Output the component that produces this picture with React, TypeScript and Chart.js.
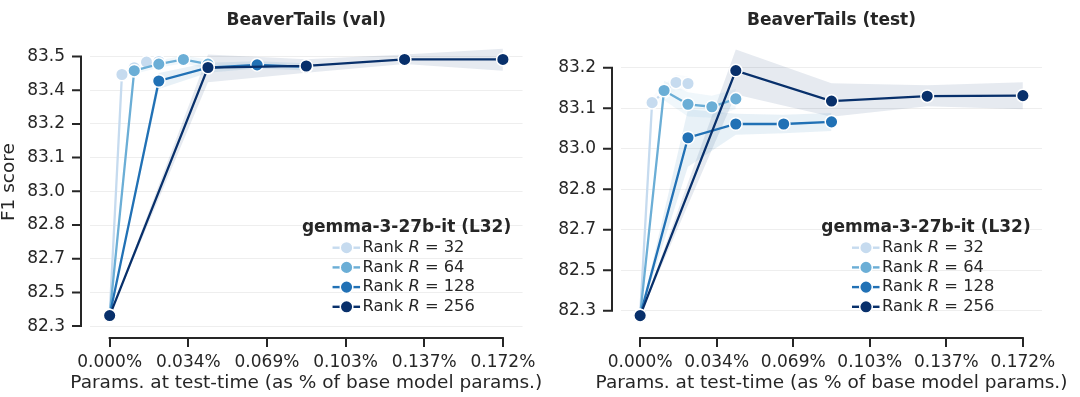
import React, { useEffect, useRef } from 'react';
import { Chart, registerables } from 'chart.js';

Chart.register(...registerables);

const FONT = "'DejaVu Sans', 'Liberation Sans', sans-serif";
const TEXT = '#262626';

// ---- shared data ----
const RANKS = [32, 64, 128, 256];
const COLORS = ['#c6dbef', '#6baed6', '#2171b5', '#08306b'];
const LEGEND_TITLE = 'gemma-3-27b-it (L32)';
const X_TITLE = 'Params. at test-time (as % of base model params.)';

const X_TICKS = [0, 0.03437, 0.06874, 0.10311, 0.13748, 0.17185];
const X_TICK_LABELS = ['0.000%', '0.034%', '0.069%', '0.103%', '0.137%', '0.172%'];
const X_MIN = -0.0085925;
const X_MAX = 0.1804425;

const X_R32 = [0, 0.00537, 0.01074, 0.01611, 0.02148];
const X_R64 = [0, 0.01074, 0.02148, 0.03222, 0.04296];
const X_R128 = [0, 0.02148, 0.04296, 0.06444, 0.08593];
const X_R256 = [0, 0.04296, 0.08593, 0.12889, 0.17185];

// ---- BeaverTails (val) ----
const VAL_Y_TICKS = [82.3, 82.45, 82.6, 82.75, 82.9, 83.05, 83.2, 83.35, 83.5];
const VAL_Y_TICK_LABELS = ['82.3', '82.5', '82.7', '82.8', '83.0', '83.1', '83.2', '83.4', '83.5'];
const VAL_R32 = [82.347, 83.42, 83.45, 83.475, 83.478];
const VAL_R32_LO = [82.347, 83.408, 83.438, 83.463, 83.466];
const VAL_R32_HI = [82.347, 83.432, 83.462, 83.487, 83.49];
const VAL_R64 = [82.347, 83.437, 83.466, 83.487, 83.466];
const VAL_R64_LO = [82.347, 83.422, 83.45, 83.47, 83.445];
const VAL_R64_HI = [82.347, 83.452, 83.482, 83.504, 83.487];
const VAL_R128 = [82.347, 83.391, 83.45, 83.463, 83.454];
const VAL_R128_LO = [82.347, 83.355, 83.428, 83.447, 83.438];
const VAL_R128_HI = [82.347, 83.427, 83.472, 83.479, 83.47];
const VAL_R256 = [82.347, 83.451, 83.458, 83.487, 83.487];
const VAL_R256_LO = [82.347, 83.386, 83.428, 83.467, 83.437];
const VAL_R256_HI = [82.347, 83.509, 83.488, 83.509, 83.535];

// ---- BeaverTails (test) ----
const TEST_Y_TICKS = [82.3, 82.45, 82.6, 82.75, 82.9, 83.05, 83.2];
const TEST_Y_TICK_LABELS = ['82.3', '82.5', '82.7', '82.8', '83.0', '83.1', '83.2'];
const TEST_R32 = [82.282, 83.071, 83.111, 83.146, 83.142];
const TEST_R32_LO = [82.282, 83.05, 83.085, 83.118, 83.115];
const TEST_R32_HI = [82.282, 83.092, 83.137, 83.174, 83.169];
const TEST_R64 = [82.282, 83.116, 83.065, 83.056, 83.085];
const TEST_R64_LO = [82.282, 83.08, 83.02, 83.015, 83.048];
const TEST_R64_HI = [82.282, 83.152, 83.11, 83.097, 83.122];
const TEST_R128 = [82.282, 82.941, 82.992, 82.992, 83.0];
const TEST_R128_LO = [82.282, 82.834, 82.952, 82.958, 82.966];
const TEST_R128_HI = [82.282, 83.047, 83.03, 83.026, 83.033];
const TEST_R256 = [82.282, 83.19, 83.077, 83.095, 83.097];
const TEST_R256_LO = [82.282, 83.101, 83.019, 83.058, 83.047];
const TEST_R256_HI = [82.282, 83.268, 83.143, 83.136, 83.147];

type Series = { x: number[]; y: number[]; lo: number[]; hi: number[] };
type Panel = {
  title: string;
  left: number;
  width: number;
  padRight: number;
  axisWidth: number;
  yMin: number;
  yMax: number;
  yTicks: number[];
  yLabels: string[];
  yTitle: string | null;
  series: Series[];
};

const PANELS: Panel[] = [
  {
    title: 'BeaverTails (val)',
    left: 0,
    width: 560,
    padRight: 31,
    axisWidth: 90,
    yMin: 82.2872,
    yMax: 83.5949,
    yTicks: VAL_Y_TICKS,
    yLabels: VAL_Y_TICK_LABELS,
    yTitle: 'F1 score',
    series: [
      { x: X_R32, y: VAL_R32, lo: VAL_R32_LO, hi: VAL_R32_HI },
      { x: X_R64, y: VAL_R64, lo: VAL_R64_LO, hi: VAL_R64_HI },
      { x: X_R128, y: VAL_R128, lo: VAL_R128_LO, hi: VAL_R128_HI },
      { x: X_R256, y: VAL_R256, lo: VAL_R256_LO, hi: VAL_R256_HI },
    ],
  },
  {
    title: 'BeaverTails (test)',
    left: 540,
    width: 540,
    padRight: 21,
    axisWidth: 81,
    yMin: 82.2324,
    yMax: 83.321,
    yTicks: TEST_Y_TICKS,
    yLabels: TEST_Y_TICK_LABELS,
    yTitle: null,
    series: [
      { x: X_R32, y: TEST_R32, lo: TEST_R32_LO, hi: TEST_R32_HI },
      { x: X_R64, y: TEST_R64, lo: TEST_R64_LO, hi: TEST_R64_HI },
      { x: X_R128, y: TEST_R128, lo: TEST_R128_LO, hi: TEST_R128_HI },
      { x: X_R256, y: TEST_R256, lo: TEST_R256_LO, hi: TEST_R256_HI },
    ],
  },
];

function hexToRgba(hex: string, a: number) {
  const n = parseInt(hex.slice(1), 16);
  return `rgba(${(n >> 16) & 255},${(n >> 8) & 255},${n & 255},${a})`;
}

function makeDecor(panel: Panel) {
  return {
    id: 'decor',
    afterDraw(chart: any) {
      const { ctx, chartArea: ca, scales } = chart;
      const xs = scales.x;
      const ys = scales.y;
      ctx.save();
      ctx.strokeStyle = TEXT;
      ctx.lineWidth = 2;
      ctx.lineCap = 'butt';
      // bottom spine (offset, trimmed)
      const sy = ca.bottom + 9;
      const x0 = xs.getPixelForValue(X_TICKS[0]);
      const x1 = xs.getPixelForValue(X_TICKS[X_TICKS.length - 1]);
      ctx.beginPath();
      ctx.moveTo(x0 - 1, sy);
      ctx.lineTo(x1 + 1, sy);
      X_TICKS.forEach((v) => {
        const p = Math.round(xs.getPixelForValue(v));
        ctx.moveTo(p, sy);
        ctx.lineTo(p, sy + 9);
      });
      ctx.stroke();
      // left spine (offset, trimmed)
      const sx = ca.left - 9;
      const yb = ys.getPixelForValue(panel.yTicks[0]);
      const yt = ys.getPixelForValue(panel.yTicks[panel.yTicks.length - 1]);
      ctx.beginPath();
      ctx.moveTo(sx, yb + 1);
      ctx.lineTo(sx, yt - 1);
      panel.yTicks.forEach((v) => {
        const p = ys.getPixelForValue(v);
        ctx.moveTo(sx, p);
        ctx.lineTo(sx - 9, p);
      });
      ctx.stroke();

      // x axis title
      ctx.fillStyle = TEXT;
      ctx.font = `18.5px ${FONT}`;
      ctx.textAlign = 'center';
      ctx.textBaseline = 'middle';
      ctx.fillText(X_TITLE, (ca.left + ca.right) / 2, 383);

      // legend
      const r = ca.right;
      const b = ca.bottom;
      ctx.font = `bold 17px ${FONT}`;
      ctx.textAlign = 'center';
      ctx.fillText(LEGEND_TITLE, r - 116, b - 101);
      RANKS.forEach((rank, i) => {
        const yy = b - 81.3 + i * 19.7;
        ctx.strokeStyle = COLORS[i];
        ctx.lineWidth = 2.4;
        ctx.beginPath();
        ctx.moveTo(r - 190, yy);
        ctx.lineTo(r - 162.5, yy);
        ctx.stroke();
        ctx.beginPath();
        ctx.arc(r - 176, yy, 6.3, 0, Math.PI * 2);
        ctx.fillStyle = COLORS[i];
        ctx.fill();
        ctx.lineWidth = 1.5;
        ctx.strokeStyle = '#ffffff';
        ctx.stroke();
        ctx.fillStyle = TEXT;
        ctx.textAlign = 'left';
        let tx = r - 160;
        ctx.font = `16.3px ${FONT}`;
        ctx.fillText('Rank ', tx, yy);
        tx += ctx.measureText('Rank ').width;
        ctx.font = `italic 16.3px ${FONT}`;
        ctx.fillText('R', tx, yy);
        tx += ctx.measureText('R').width;
        ctx.font = `16.3px ${FONT}`;
        ctx.fillText(' = ' + rank, tx, yy);
      });
      ctx.restore();
    },
  };
}

function buildConfig(panel: Panel): any {
  const datasets: any[] = [];
  panel.series.forEach((s, i) => {
    const band = hexToRgba(COLORS[i], 0.1);
    datasets.push({
      data: s.x.map((x, k) => ({ x, y: s.hi[k] })),
      fill: '+1',
      backgroundColor: band,
      borderColor: 'rgba(0,0,0,0)',
      borderWidth: 0,
      pointRadius: 0,
      order: 10,
    });
    datasets.push({
      data: s.x.map((x, k) => ({ x, y: s.lo[k] })),
      fill: false,
      borderColor: 'rgba(0,0,0,0)',
      borderWidth: 0,
      pointRadius: 0,
      order: 10,
    });
  });
  panel.series.forEach((s, i) => {
    datasets.push({
      label: `Rank R = ${RANKS[i]}`,
      data: s.x.map((x, k) => ({ x, y: s.y[k] })),
      borderColor: COLORS[i],
      backgroundColor: COLORS[i],
      borderWidth: 2.3,
      pointRadius: 6.3,
      pointHoverRadius: 6.3,
      pointBorderWidth: 1.5,
      pointBorderColor: '#ffffff',
      pointBackgroundColor: COLORS[i],
      fill: false,
      tension: 0,
      order: 4 - i,
    });
  });

  return {
    type: 'line',
    data: { datasets },
    plugins: [makeDecor(panel)],
    options: {
      animation: false,
      responsive: false,
      events: [],
      layout: { padding: { left: 0, right: panel.padRight, top: 0, bottom: 0 } },
      plugins: {
        legend: { display: false },
        tooltip: { enabled: false },
        filler: { propagate: false, drawTime: 'beforeDatasetsDraw' },
        title: {
          display: true,
          text: panel.title,
          fullSize: false,
          color: TEXT,
          font: { family: FONT, size: 17, weight: 'bold', lineHeight: 1 },
          padding: { top: 0, bottom: 6 },
        },
      },
      scales: {
        x: {
          type: 'linear',
          min: X_MIN,
          max: X_MAX,
          afterBuildTicks: (s: any) => {
            s.ticks = X_TICKS.map((v) => ({ value: v }));
          },
          afterFit: (s: any) => {
            s.height = 68;
          },
          ticks: {
            autoSkip: false,
            maxRotation: 0,
            minRotation: 0,
            padding: 23,
            color: TEXT,
            font: { family: FONT, size: 17 },
            callback: (_v: any, i: number) => X_TICK_LABELS[i],
          },
          grid: { display: false, drawTicks: false },
          border: { display: false },
        },
        y: {
          type: 'linear',
          min: panel.yMin,
          max: panel.yMax,
          afterBuildTicks: (s: any) => {
            s.ticks = panel.yTicks.map((v) => ({ value: v }));
          },
          afterFit: (s: any) => {
            s.width = panel.axisWidth;
          },
          ticks: {
            autoSkip: false,
            padding: 25,
            color: TEXT,
            font: { family: FONT, size: 17 },
            callback: (_v: any, i: number) => panel.yLabels[i],
          },
          grid: { drawTicks: false, color: '#eeeeee', lineWidth: 1 },
          border: { display: false },
          title: {
            display: !!panel.yTitle,
            text: panel.yTitle || '',
            color: TEXT,
            font: { family: FONT, size: 18.5, lineHeight: 1 },
            padding: 0,
          },
        },
      },
    },
  };
}

function PanelChart({ panel }: { panel: Panel }) {
  const ref = useRef<HTMLCanvasElement | null>(null);
  useEffect(() => {
    if (!ref.current) return;
    const chart = new Chart(ref.current, buildConfig(panel));
    return () => chart.destroy();
  }, [panel]);
  return (
    <canvas
      ref={ref}
      width={panel.width}
      height={397}
      style={{ position: 'absolute', left: panel.left, top: 0, width: panel.width, height: 397, display: 'block' }}
    />
  );
}

export default function App() {
  useEffect(() => {
    document.body.style.margin = '0';
    document.body.style.background = '#ffffff';
  }, []);
  Chart.defaults.font.family = FONT;
  Chart.defaults.color = TEXT;
  return (
    <div style={{ position: 'absolute', left: 0, top: 0, width: 1080, height: 397, background: '#ffffff', overflow: 'hidden' }}>
      {PANELS.map((p) => (
        <PanelChart key={p.title} panel={p} />
      ))}
    </div>
  );
}
